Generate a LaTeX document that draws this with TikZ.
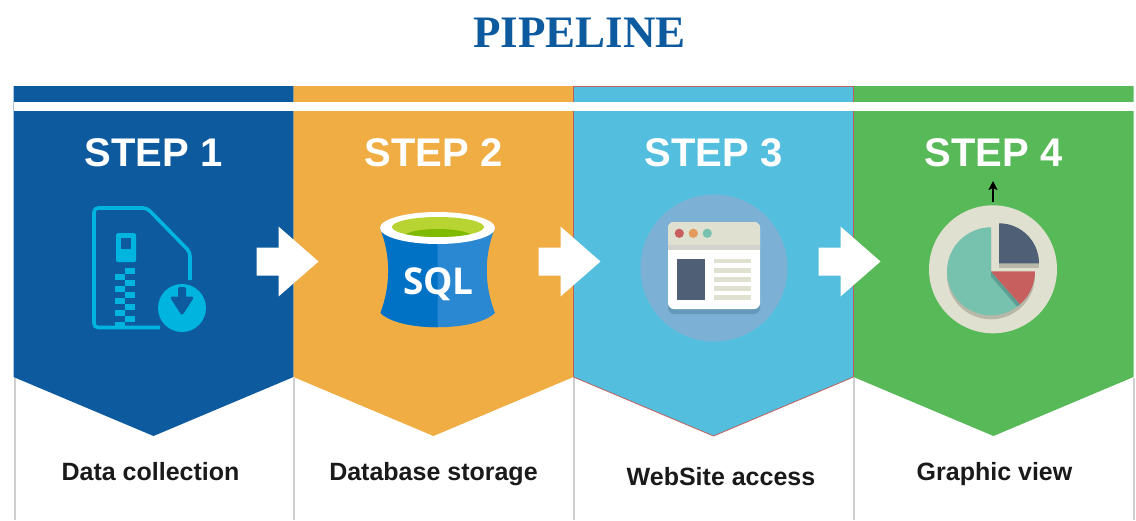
\documentclass[tikz,border=0pt]{standalone}
\usepackage{fontspec}
\setmainfont{Liberation Sans}
\newfontfamily\titlefont{Liberation Serif}
\newfontfamily\sqlfont{Open Sans}
\usetikzlibrary{arrows.meta}
\definecolor{stepblue}{HTML}{0D5B9E}
\definecolor{steporange}{HTML}{F0AD44}
\definecolor{stepcyan}{HTML}{54BEDF}
\definecolor{stepgreen}{HTML}{58B958}
\definecolor{edgered}{HTML}{C0605A}
\definecolor{sidegrey}{HTML}{CFCFCF}
\definecolor{zipcyan}{HTML}{00B4E0}
\definecolor{labelblack}{HTML}{1A1A1A}
\definecolor{paleiv}{HTML}{E0E0D0}
\definecolor{slate}{HTML}{4F5F76}
\definecolor{tealpie}{HTML}{77C2AE}
\definecolor{tealshade}{HTML}{5C9E93}
\definecolor{redpie}{HTML}{C75F5F}
\definecolor{shadowiv}{HTML}{B8B8A8}
\definecolor{sqlleft}{HTML}{0072C6}
\definecolor{sqlright}{HTML}{2A88D2}
\definecolor{limepale}{HTML}{B8D432}
\definecolor{limedark}{HTML}{7FBA00}
\definecolor{haloblue}{HTML}{7CB1D5}
\definecolor{winshadow}{HTML}{6499B9}
\definecolor{winstripe}{HTML}{D2D2CE}
\definecolor{dotorange}{HTML}{E39A5A}
\tikzset{
  titletext/.style={anchor=base,text=stepblue,font=\titlefont\bfseries\fontsize{45}{54}\selectfont,inner sep=0pt},
  steptext/.style={anchor=base,text=white,font=\bfseries\fontsize{40}{48}\selectfont,inner sep=0pt},
  labeltext/.style={anchor=base,text=labelblack,font=\bfseries\fontsize{25}{30}\selectfont,inner sep=0pt},
  sideline/.style={draw=sidegrey,line width=2pt},
  zipblock/.style={fill=zipcyan},
  winline/.style={fill=paleiv},
  upmark/.style={draw=black,line width=1.6pt,-{Stealth[length=9pt,width=9pt,inset=2pt]}},
  pics/blockarrow/.style={code={\fill[white] (0,-14) -- (22,-14) -- (22,-35) -- (62,0) -- (22,35) -- (22,14) -- (0,14) -- cycle;}}
}
\begin{document}
\begin{tikzpicture}[x=1pt,y=-1pt]
\useasboundingbox (0,0) rectangle (1136,520);
\fill[white] (0,0) rectangle (1136,520);
\node[titletext] (title) at (579.5,47.5) {PIPELINE};
% grey side lines
\foreach \x in {14.5,293.5,573.5,853.5,1133.5} \draw[sideline] (\x,378) -- (\x,520);
% chevrons
\fill[stepblue] (13.5,86) -- (293.5,86) -- (293.5,377) -- (153.5,436) -- (13.5,377) -- cycle;
\fill[steporange] (293.5,86) -- (573.5,86) -- (573.5,377) -- (433.5,436) -- (293.5,377) -- cycle;
\fill[stepgreen] (853.5,86) -- (1133.5,86) -- (1133.5,377) -- (993.5,436) -- (853.5,377) -- cycle;
\filldraw[fill=stepcyan,draw=edgered,line width=.8pt] (573.5,86.5) -- (853.5,86.5) -- (853.5,377) -- (713.5,436) -- (573.5,377) -- cycle;
\fill[white] (13.5,101.5) rectangle (1133.5,111);
% step titles
\node[steptext] (s1) at (153.5,166) {STEP 1};
\node[steptext] (s2) at (433.5,166) {STEP 2};
\node[steptext] (s3) at (713.5,166) {STEP 3};
\node[steptext] (s4) at (993.5,166) {STEP 4};
% labels
\node[labeltext] (l1) at (150.5,480) {Data collection};
\node[labeltext] (l2) at (433.5,480) {Database storage};
\node[labeltext] (l3) at (721,485) {WebSite access};
\node[labeltext] (l4) at (994.5,480) {Graphic view};
% icon 1: zip file
\draw[zipcyan,line width=3.6pt,line join=round,rounded corners=4pt] (190,280) -- (190,252) -- (147,208) -- (94,208) -- (94,327.5) -- (160,327.5);
\fill[zipcyan,rounded corners=1.5pt] (116,233) rectangle (136,262);
\fill[stepblue] (121,238) rectangle (131,249);
\foreach \y in {268,280,292,304,316} \fill[zipblock] (125,\y) rectangle (135,\y+6);
\foreach \y in {274,286,298,310,322} \fill[zipblock] (115,\y) rectangle (125,\y+6);
\fill[zipcyan] (182,308) circle[radius=24];
\fill[stepblue,rounded corners=2pt] (178,287) rectangle (186,302);
\fill[stepblue,rounded corners=3pt] (169.5,296.5) -- (194.5,296.5) -- (182,316) -- cycle;
% icon 2: SQL bucket
\fill[sqlright] (380,228) .. controls (391,255) and (391,285) .. (380.5,313) .. controls (400,332) and (475,332) .. (495,313) .. controls (484,285) and (484,255) .. (495,228) -- cycle;
\begin{scope}
\clip (370,200) rectangle (437.7,340);
\fill[sqlleft] (380,228) .. controls (391,255) and (391,285) .. (380.5,313) .. controls (400,332) and (475,332) .. (495,313) .. controls (484,285) and (484,255) .. (495,228) -- cycle;
\end{scope}
\fill[white] (437.5,228) ellipse[x radius=57.5,y radius=16];
\fill[limepale] (438,227) ellipse[x radius=46,y radius=10];
\begin{scope}
\clip (438,227) ellipse[x radius=46,y radius=10];
\fill[limedark] (438,238) ellipse[x radius=36,y radius=9];
\end{scope}
\node[anchor=base,text=white,inner sep=0pt,font=\sqlfont\bfseries\fontsize{37}{46}\selectfont] (sql) at (438.5,294) {SQL};
% icon 3: browser window
\fill[haloblue] (714,268) circle[radius=73.5];
\fill[winshadow,rounded corners=6pt] (668,240) rectangle (760,314);
\fill[white,rounded corners=6pt] (668,222) rectangle (760,309);
\begin{scope}
\clip[rounded corners=6pt] (668,222) rectangle (760,309);
\fill[paleiv] (668,222) rectangle (760,245);
\fill[winstripe] (668,245) rectangle (760,249.5);
\end{scope}
\fill[redpie] (679.3,233.3) circle[radius=4.6];
\fill[dotorange] (693.3,233.3) circle[radius=4.6];
\fill[tealpie] (707.3,233.3) circle[radius=4.6];
\fill[slate] (677.3,258.7) rectangle (704.7,300);
\foreach \y in {258.7,268,277,286.3,295.3} \fill[winline] (714,\y) rectangle (750.7,\y+4.7);
% icon 4: pie chart
\coordinate (markfoot) at (993,202);
\coordinate (markhead) at (993,181);
\draw[upmark] (markfoot) -- (markhead);
\fill[paleiv] (993,269.3) circle[radius=64];
\fill[shadowiv] (999,263) rectangle (1039,267.5);
\fill[slate] (999,263.3) -- (999,223.3) arc[start angle=-90,end angle=0,radius=40] -- cycle;
% pie shadow: the whole pie moved down
\fill[shadowiv] (991,275.3) -- (991,231.3) arc[start angle=-90,end angle=-360,radius=44] -- cycle;
\fill[tealpie] (991,271.3) -- (991,227.3) arc[start angle=-90,end angle=-311.3,radius=44] -- cycle;
\fill[tealshade] (991,271.3) -- (1020,304.4) -- (1017,306.5) -- (991,276.5) -- cycle;
\fill[redpie] (991,271.3) -- (1035,271.3) arc[start angle=0,end angle=48.7,radius=44] -- cycle;
% block arrows
\pic at (256.5,261.5) {blockarrow};
\pic at (538.5,261.5) {blockarrow};
\pic at (818.5,261.5) {blockarrow};
\end{tikzpicture}
\end{document}
